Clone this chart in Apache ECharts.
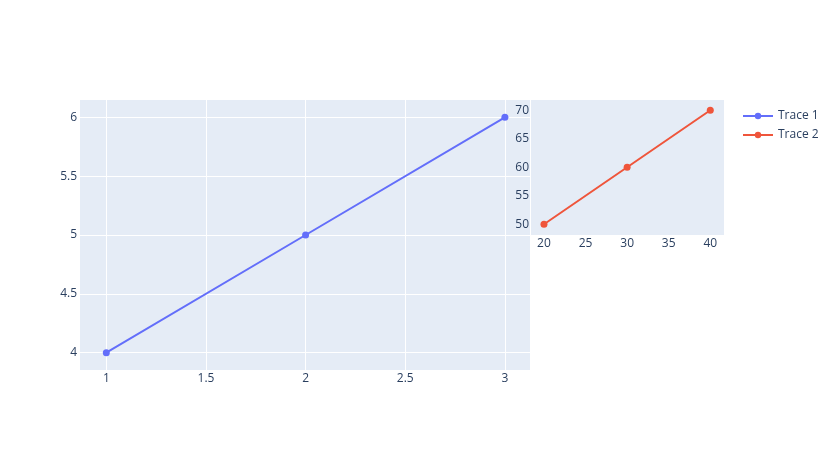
<!DOCTYPE html>
<html>
<head>
<meta charset="utf-8">
<script src="https://cdn.jsdelivr.net/npm/echarts@6/dist/echarts.min.js"></script>
<style>html,body{margin:0;padding:0;background:#fff;}#c{width:839px;height:450px;}</style>
</head>
<body>
<div id="c"></div>
<script>
const trace1X = [1, 2, 3];
const trace1Y = [4, 5, 6];
const trace2X = [20, 30, 40];
const trace2Y = [50, 60, 70];
const mainXTicks = [1, 1.5, 2, 2.5, 3];
const mainYTicks = [4, 4.5, 5, 5.5, 6];
const insetXTicks = [20, 25, 30, 35, 40];
const insetYTicks = [50, 55, 60, 65, 70];
const seriesNames = ['Trace 1', 'Trace 2'];

const FONT = '"Open Sans", verdana, arial, sans-serif';
const TXT = '#2a3f5f';
const BG = '#E5ECF6';

function axis(gridIndex, min, max, ticks, margin) {
  return {
    type: 'value', gridIndex, min, max,
    axisLine: {show: false}, axisTick: {show: false, customValues: ticks},
    axisLabel: {customValues: ticks, color: TXT, fontFamily: FONT, fontSize: 12, margin: margin},
    splitLine: {show: true, lineStyle: {color: '#ffffff', width: 1}}
  };
}

const chart = echarts.init(document.getElementById('c'), null, {renderer: 'canvas'});
chart.setOption({
  animation: false,
  textStyle: {fontFamily: FONT},
  grid: [
    {left: 80, top: 100, width: 450, height: 270, show: true, backgroundColor: BG, borderWidth: 0, z: 0},
    {left: 531, top: 100, width: 193, height: 135, show: true, backgroundColor: BG, borderWidth: 0, z: 1}
  ],
  xAxis: [
    axis(0, 0.868, 3.126, mainXTicks, 3),
    axis(1, 18.44, 41.65, insetXTicks, 3)
  ],
  yAxis: [
    axis(0, 3.853, 6.147, mainYTicks, 3),
    axis(1, 48.12, 71.8, insetYTicks, 2)
  ],
  legend: {
    orient: 'vertical', left: 737, top: 105, itemWidth: 30, itemHeight: 8, itemGap: 7,
    textStyle: {color: TXT, fontSize: 12, fontFamily: FONT},
    data: seriesNames
  },
  series: [
    {
      name: seriesNames[0], type: 'line', xAxisIndex: 0, yAxisIndex: 0,
      data: trace1X.map((x, i) => [x, trace1Y[i]]),
      symbol: 'circle', symbolSize: 7, color: '#636efa',
      lineStyle: {width: 2}, itemStyle: {color: '#636efa'}
    },
    {
      name: seriesNames[1], type: 'line', xAxisIndex: 1, yAxisIndex: 1,
      data: trace2X.map((x, i) => [x, trace2Y[i]]),
      symbol: 'circle', symbolSize: 7, color: '#EF553B', z: 5,
      lineStyle: {width: 2}, itemStyle: {color: '#EF553B'}
    }
  ]
});
</script>
</body>
</html>
